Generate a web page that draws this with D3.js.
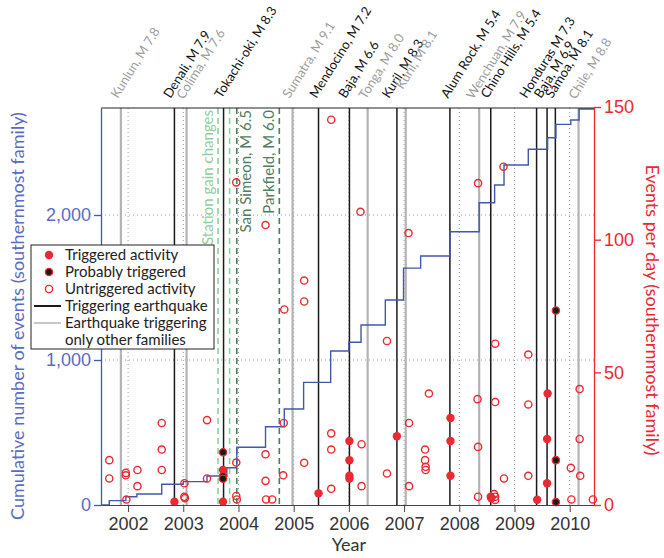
<!DOCTYPE html>
<html>
<head>
<meta charset="utf-8">
<script src="https://cdn.jsdelivr.net/npm/d3@7"></script>
<style>
    body { margin: 0; background: #fff; }
    svg { font-family: Lato, "Open Sans", sans-serif; }
</style>
</head>
<body>
<div class="draw-area"></div>
<script>
// ===================================================
// DATA
// ---------------------------------------------------
// Years are decimal years, rates are events per day.
// ===================================================

// Earthquakes drawn as vertical lines (black = triggering, gray = other families only)
const quakeNames = ["Kunlun, M 7.8", "Denali, M 7.9", "Colima, M 7.6", "Tokachi-oki, M 8.3",
    "Sumatra, M 9.1", "Mendocino, M 7.2", "Baja, M 6.6", "Tonga, M 8.0", "Kuril, M 8.3",
    "Kuril, M 8.1", "Alum Rock, M 5.4", "Wenchuan, M 7.9", "Chino Hills, M 5.4",
    "Honduras M 7.3", "Baja, M 6.9", "Samoa, M 8.1", "Chile, M 8.8"];
const quakeYears = [2001.87, 2002.84, 2003.06, 2003.73, 2004.98, 2005.45, 2006.01, 2006.34,
    2006.87, 2007.03, 2007.83, 2008.36, 2008.57, 2009.40, 2009.59, 2009.74, 2010.16];
const quakeTriggers = [false, true, false, true, false, true, true, false, true, false,
    true, false, true, true, true, true, false];

// Station gain changes and local events (dashed lines)
const gainYears = [2003.63, 2003.84];
const localNames = ["San Simeon, M 6.5", "Parkfield, M 6.0"];
const localYears = [2003.97, 2004.74];

// Cumulative number of events, stepped
const stepYears = [2001.51, 2001.66, 2001.96, 2002.16, 2002.61, 2003.00, 2003.43, 2003.79,
    2003.97, 2004.49, 2004.83, 2005.18, 2005.67, 2006.00, 2006.22, 2006.66, 2006.99,
    2007.30, 2007.83, 2008.36, 2008.64, 2008.81, 2009.25, 2009.60, 2009.75, 2010.02,
    2010.17, 2010.44];
const stepCounts = [0, 30, 57, 76, 143, 161, 200, 257, 398, 540, 662, 846, 1062, 1122,
    1241, 1414, 1634, 1717, 1885, 2085, 2207, 2345, 2453, 2533, 2625, 2655, 2731, 2731];

// Events per day: [year, rate]
const untriggered = [
    [2001.66, 16.9], [2001.66, 10.0], [2001.96, 12.1], [2001.96, 11.2], [2001.97, 2.1],
    [2002.17, 13.2], [2002.17, 7.1], [2002.61, 30.9], [2002.61, 20.9], [2002.61, 13.2],
    [2003.02, 8.2], [2003.02, 3.1], [2003.03, 2.6], [2003.43, 32.0], [2003.43, 10.0],
    [2003.96, 121.6], [2003.96, 16.0], [2003.96, 3.4], [2003.97, 2.1],
    [2004.49, 105.5], [2004.49, 19.1], [2004.49, 9.1], [2004.50, 2.1], [2004.61, 2.1],
    [2004.83, 73.7], [2004.82, 30.9], [2004.81, 11.2],
    [2005.19, 84.6], [2005.19, 76.7], [2005.19, 15.9],
    [2005.68, 145.2], [2005.68, 27.0], [2005.68, 20.9], [2005.68, 6.1],
    [2006.21, 110.5], [2006.23, 22.9], [2006.23, 7.1], [2006.69, 61.8], [2006.69, 11.9],
    [2007.08, 102.5], [2007.09, 30.9], [2007.09, 7.1],
    [2007.38, 20.9], [2007.38, 16.9], [2007.39, 14.4], [2007.39, 13.2], [2007.45, 42.0],
    [2008.34, 121.3], [2008.33, 39.9], [2008.34, 21.9], [2008.34, 3.1],
    [2008.65, 60.8], [2008.65, 38.8], [2008.63, 4.1], [2008.65, 3.1], [2008.65, 1.9],
    [2008.80, 127.5], [2008.81, 10.0],
    [2009.25, 56.7], [2009.25, 37.9], [2009.25, 11.0],
    [2010.02, 14.0], [2010.03, 2.1], [2010.18, 43.7], [2010.18, 24.9], [2010.19, 11.0],
    [2010.42, 2.1]
];
const triggered = [
    [2002.84, 1.2], [2003.72, 13.2], [2003.72, 1.2], [2005.45, 4.4],
    [2006.01, 24.1], [2006.01, 16.9], [2006.01, 11.0], [2006.01, 10.0], [2006.87, 25.9],
    [2007.84, 32.8], [2007.84, 24.1], [2007.84, 11.0], [2008.57, 3.1], [2008.58, 2.5],
    [2009.41, 2.0], [2009.60, 42.0], [2009.59, 24.9], [2009.59, 8.2]
];
const probable = [
    [2003.72, 19.9], [2003.72, 10.9], [2003.72, 9.9],
    [2009.75, 73.3], [2009.75, 16.9], [2009.75, 1.1]
];

// Tick labels
const yearTicks = [2002, 2003, 2004, 2005, 2006, 2007, 2008, 2009, 2010];
const countTicks = [0, 1000, 2000];
const rateTicks = [0, 50, 100, 150];

// ===================================================
// CANVAS
// ===================================================
const width = 664, height = 558;
const margin = { top: 108, right: 70, bottom: 53, left: 101 };

const BLUE = "#4258ac";
const RED = "#ec2830";

// Label nudges (px) so crowded labels stack side by side
const labelDx = [-3, -4, -3, -2, -3, -2, -4, -2, -8, -3, -2, -6, -3, -10, -6, -3, -3];
const labelDy = [0, 0, 1, 0, 0, 0, 0, 1, 0, -9, 0, 1, 0, 0, 0, 0, 1];

const svg = d3.select(".draw-area")
    .append("svg")
    .attr("width", width)
    .attr("height", height);

// Scales
const x = d3.scaleLinear().domain([2001.51, 2010.44]).range([margin.left, width - margin.right]);
const yCount = d3.scaleLinear().domain([0, 2738]).range([height - margin.bottom, margin.top]);
const yRate = d3.scaleLinear().domain([0, 150]).range([height - margin.bottom, margin.top - 1]);

const plotTop = margin.top, plotBottom = height - margin.bottom;

// Grid lines (dotted)
svg.append("g")
    .selectAll("line")
    .data(yearTicks)
    .join("line")
    .attr("x1", d => x(d)).attr("x2", d => x(d))
    .attr("y1", plotTop).attr("y2", plotBottom)
    .attr("stroke", "#9a9a9a")
    .attr("stroke-dasharray", "1,3");

svg.append("g")
    .selectAll("line")
    .data(countTicks.filter(d => d > 0))
    .join("line")
    .attr("x1", margin.left).attr("x2", width - margin.right)
    .attr("y1", d => yCount(d)).attr("y2", d => yCount(d))
    .attr("stroke", "#8796cf")
    .attr("stroke-dasharray", "1,3");

// Station gain changes + local quakes
svg.append("g")
    .selectAll("line")
    .data(gainYears)
    .join("line")
    .attr("x1", d => x(d)).attr("x2", d => x(d))
    .attr("y1", plotTop).attr("y2", plotBottom)
    .attr("stroke", "#8fcf9e")
    .attr("stroke-width", 1.6)
    .attr("stroke-dasharray", "6,4");

svg.append("g")
    .selectAll("line")
    .data(localYears)
    .join("line")
    .attr("x1", d => x(d)).attr("x2", d => x(d))
    .attr("y1", plotTop).attr("y2", plotBottom)
    .attr("stroke", "#4f7d5f")
    .attr("stroke-width", 1.6)
    .attr("stroke-dasharray", "6,4");

// Vertical texts beside the dashed lines
svg.append("text")
    .attr("transform", `translate(${x(gainYears[0]) - 5},110) rotate(-90)`)
    .attr("text-anchor", "end")
    .attr("font-size", 15)
    .attr("fill", "#8fcf9e")
    .text("Station gain changes");

const localDx = [14, -5];   // San Simeon text sits right of its line, Parkfield left
svg.append("g")
    .selectAll("text")
    .data(localNames)
    .join("text")
    .attr("transform", (d, i) => `translate(${x(localYears[i]) + localDx[i]},110) rotate(-90)`)
    .attr("text-anchor", "end")
    .attr("font-size", 15)
    .attr("fill", "#4f7d5f")
    .text(d => d);

// Earthquake lines
const quakes = quakeNames.map((name, i) => ({ name, year: quakeYears[i], trig: quakeTriggers[i], i }));

svg.append("g")
    .selectAll("line")
    .data(quakes)
    .join("line")
    .attr("x1", d => x(d.year)).attr("x2", d => x(d.year))
    .attr("y1", plotTop).attr("y2", plotBottom)
    .attr("stroke", d => d.trig ? "#1a1a1a" : "#b3b3b3")
    .attr("stroke-width", d => d.trig ? 1.5 : 2.2);

// Earthquake labels, tilted
svg.append("g")
    .selectAll("text")
    .data(quakes)
    .join("text")
    .attr("transform", d => `translate(${x(d.year) + labelDx[d.i]},${99 + labelDy[d.i]}) rotate(-58)`)
    .attr("font-size", 13)
    .attr("fill", d => d.trig ? "#111" : "#9d9d9d")
    .text(d => d.name);

// Cumulative step line
const stepLine = d3.line()
    .x(d => x(d[0]))
    .y(d => yCount(d[1]))
    .curve(d3.curveStepAfter);

svg.append("path")
    .datum(stepYears.map((yr, i) => [yr, stepCounts[i]]))
    .attr("d", stepLine)
    .attr("fill", "none")
    .attr("stroke", BLUE)
    .attr("stroke-width", 1.4);

// Events per day
const r = 3.6;
svg.append("g")
    .selectAll("circle")
    .data(untriggered)
    .join("circle")
    .attr("cx", d => x(d[0])).attr("cy", d => yRate(d[1]))
    .attr("r", r)
    .attr("fill", "none")
    .attr("stroke", RED)
    .attr("stroke-width", 1.4);

svg.append("g")
    .selectAll("circle")
    .data(triggered)
    .join("circle")
    .attr("cx", d => x(d[0])).attr("cy", d => yRate(d[1]))
    .attr("r", r + 0.6)
    .attr("fill", RED);

svg.append("g")
    .selectAll("circle")
    .data(probable)
    .join("circle")
    .attr("cx", d => x(d[0])).attr("cy", d => yRate(d[1]))
    .attr("r", r)
    .attr("fill", "#1a1a1a")
    .attr("stroke", RED)
    .attr("stroke-width", 1.4);

// ===================================================
// AXES
// ===================================================
// Top border
svg.append("line")
    .attr("x1", margin.left).attr("x2", width - margin.right)
    .attr("y1", plotTop).attr("y2", plotTop)
    .attr("stroke", "#222");

const xAxis = svg.append("g")
    .attr("transform", `translate(0,${plotBottom})`)
    .call(d3.axisBottom(x).tickValues(yearTicks).tickFormat(d3.format("d")).tickSize(7).tickSizeOuter(0));
xAxis.selectAll("text").attr("font-size", 18).attr("fill", "#333").attr("dy", "0.85em");
xAxis.selectAll("line, path").attr("stroke", "#444");

const leftAxis = svg.append("g")
    .attr("transform", `translate(${margin.left},0)`)
    .call(d3.axisLeft(yCount).tickValues(countTicks).tickFormat(d3.format(",")).tickSize(7).tickSizeOuter(0));
leftAxis.selectAll("text").attr("font-size", 18).attr("fill", "#5a6cc0");
leftAxis.selectAll("line, path").attr("stroke", BLUE).attr("stroke-width", 1.3);

const rightAxis = svg.append("g")
    .attr("transform", `translate(${width - margin.right},0)`)
    .call(d3.axisRight(yRate).tickValues(rateTicks).tickSize(7).tickSizeOuter(0));
rightAxis.selectAll("text").attr("font-size", 18).attr("fill", RED);
rightAxis.selectAll("line, path").attr("stroke", RED).attr("stroke-width", 1.3);

// Axis titles
svg.append("text")
    .attr("x", x(2006)).attr("y", 551)
    .attr("text-anchor", "middle")
    .attr("font-size", 18)
    .attr("fill", "#333")
    .text("Year");

svg.append("text")
    .attr("transform", `translate(24,316) rotate(-90)`)
    .attr("text-anchor", "middle")
    .attr("font-size", 18)
    .attr("fill", "#5a6cc0")
    .text("Cumulative number of events (southernmost family)");

svg.append("text")
    .attr("transform", `translate(646,310) rotate(90)`)
    .attr("text-anchor", "middle")
    .attr("font-size", 18)
    .attr("fill", RED)
    .text("Events per day (southernmost family)");

// ===================================================
// LEGEND
// ===================================================
const legend = svg.append("g").attr("transform", "translate(31,245)");
legend.append("rect")
    .attr("width", 183).attr("height", 104)
    .attr("fill", "#fff")
    .attr("stroke", "#222");

const legendLabels = ["Triggered activity", "Probably triggered", "Untriggered activity",
    "Triggering earthquake", "Earthquake triggering", "only other families"];
const rowY = i => 10 + i * 17;

legend.selectAll("text")
    .data(legendLabels)
    .join("text")
    .attr("x", 34).attr("y", (d, i) => rowY(i))
    .attr("dy", "0.35em")
    .attr("font-size", 15)
    .attr("fill", "#222")
    .text(d => d);

legend.append("circle").attr("cx", 18).attr("cy", rowY(0)).attr("r", r + 0.6).attr("fill", RED);
legend.append("circle").attr("cx", 18).attr("cy", rowY(1)).attr("r", r)
    .attr("fill", "#1a1a1a").attr("stroke", RED).attr("stroke-width", 1.4);
legend.append("circle").attr("cx", 18).attr("cy", rowY(2)).attr("r", r)
    .attr("fill", "none").attr("stroke", RED).attr("stroke-width", 1.4);
legend.append("line").attr("x1", 3).attr("x2", 30).attr("y1", rowY(3)).attr("y2", rowY(3))
    .attr("stroke", "#1a1a1a").attr("stroke-width", 2);
legend.append("line").attr("x1", 3).attr("x2", 30).attr("y1", rowY(4)).attr("y2", rowY(4))
    .attr("stroke", "#b3b3b3").attr("stroke-width", 1.5);
</script>
</body>
</html>
